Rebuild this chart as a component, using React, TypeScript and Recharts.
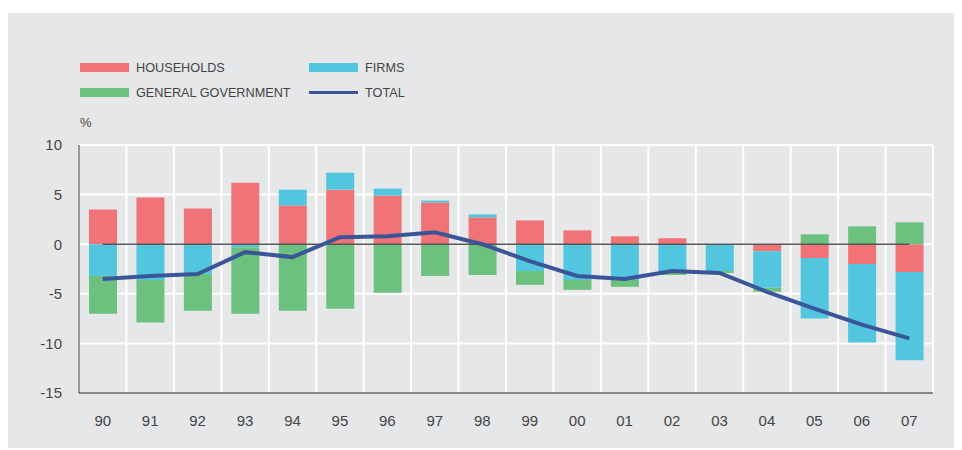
import {
  ComposedChart,
  Bar,
  Line,
  XAxis,
  YAxis,
  CartesianGrid,
  ReferenceLine,
} from "recharts";

const years = ["90", "91", "92", "93", "94", "95", "96", "97", "98", "99", "00", "01", "02", "03", "04", "05", "06", "07"];
const households = [3.5, 4.7, 3.6, 6.2, 3.9, 5.5, 4.9, 4.2, 2.7, 2.4, 1.4, 0.8, 0.6, 0, -0.7, -1.4, -2.0, -2.8];
const firms = [-3.2, -3.6, -3.0, -0.3, 1.6, 1.7, 0.7, 0.2, 0.3, -2.7, -3.6, -3.6, -2.9, -2.7, -3.7, -6.1, -7.9, -8.9];
const government = [-3.8, -4.3, -3.7, -6.7, -6.7, -6.5, -4.9, -3.2, -3.1, -1.4, -1.0, -0.7, -0.2, -0.2, -0.4, 1.0, 1.8, 2.2];
const total = [-3.5, -3.2, -3.0, -0.8, -1.3, 0.7, 0.8, 1.2, 0.0, -1.7, -3.2, -3.5, -2.7, -2.9, -4.8, -6.5, -8.1, -9.5];
const yTicks = [-15, -10, -5, 0, 5, 10];

const COLORS = {
  households: "#f07377",
  firms: "#52c5df",
  government: "#6dc17e",
  total: "#3a5699",
};

const FONT = "'Liberation Sans', Arial, sans-serif";

const data = years.map((year, i) => ({
  year,
  households: households[i],
  firms: firms[i],
  government: government[i],
  total: total[i],
}));

const legendItems = [
  { label: "HOUSEHOLDS", color: COLORS.households, left: 72, top: 50, line: false },
  { label: "FIRMS", color: COLORS.firms, left: 301, top: 50, line: false },
  { label: "GENERAL GOVERNMENT", color: COLORS.government, left: 72, top: 75, line: false },
  { label: "TOTAL", color: COLORS.total, left: 301, top: 75, line: true },
];

export default function App() {
  return (
    <div
      style={{
        position: "relative",
        marginTop: 5,
        width: 954,
        height: 435,
        background: "#e6e7e9",
        fontFamily: FONT,
      }}
    >
      {legendItems.map((item) => (
        <div
          key={item.label}
          style={{ position: "absolute", left: item.left, top: item.top, display: "flex", alignItems: "center", height: 9 }}
        >
          <div
            style={{
              width: 49,
              height: item.line ? 3.5 : 9,
              background: item.color,
              marginRight: 7,
            }}
          />
          <span style={{ fontSize: 12.7, color: "#444" }}>{item.label}</span>
        </div>
      ))}
      <div style={{ position: "absolute", left: 72, top: 102, fontSize: 13, color: "#444" }}>%</div>
      <ComposedChart
        width={954}
        height={435}
        data={data}
        stackOffset="sign"
        margin={{ top: 132, right: 29, bottom: 0, left: 0 }}
      >
        <CartesianGrid
          stroke="#ffffff"
          strokeWidth={2}
          verticalCoordinatesGenerator={({ offset }: any) =>
            years.map((_, i) => offset.left + (i * offset.width) / years.length).concat(offset.left + offset.width)
          }
        />
        <XAxis
          dataKey="year"
          axisLine={{ stroke: "#888", strokeWidth: 2 }}
          tickLine={false}
          tickMargin={16}
          height={55}
          tick={{ fontSize: 15, fill: "#444", fontFamily: FONT }}
        />
        <YAxis
          domain={[-15, 10]}
          ticks={yTicks}
          width={71}
          axisLine={{ stroke: "#333" }}
          tickLine={false}
          tickMargin={11}
          tick={{ fontSize: 15, fill: "#444", fontFamily: FONT }}
        />
        <Bar dataKey="households" stackId="a" fill={COLORS.households} barSize={28} isAnimationActive={false} />
        <Bar dataKey="firms" stackId="a" fill={COLORS.firms} barSize={28} isAnimationActive={false} />
        <Bar dataKey="government" stackId="a" fill={COLORS.government} barSize={28} isAnimationActive={false} />
        <ReferenceLine
          segment={[
            { x: years[0], y: 0 },
            { x: years[years.length - 1], y: 0 },
          ]}
          stroke="#555"
          strokeWidth={1.5}
        />
        <Line
          type="linear"
          dataKey="total"
          stroke={COLORS.total}
          strokeWidth={4}
          dot={false}
          activeDot={false}
          isAnimationActive={false}
        />
      </ComposedChart>
    </div>
  );
}
